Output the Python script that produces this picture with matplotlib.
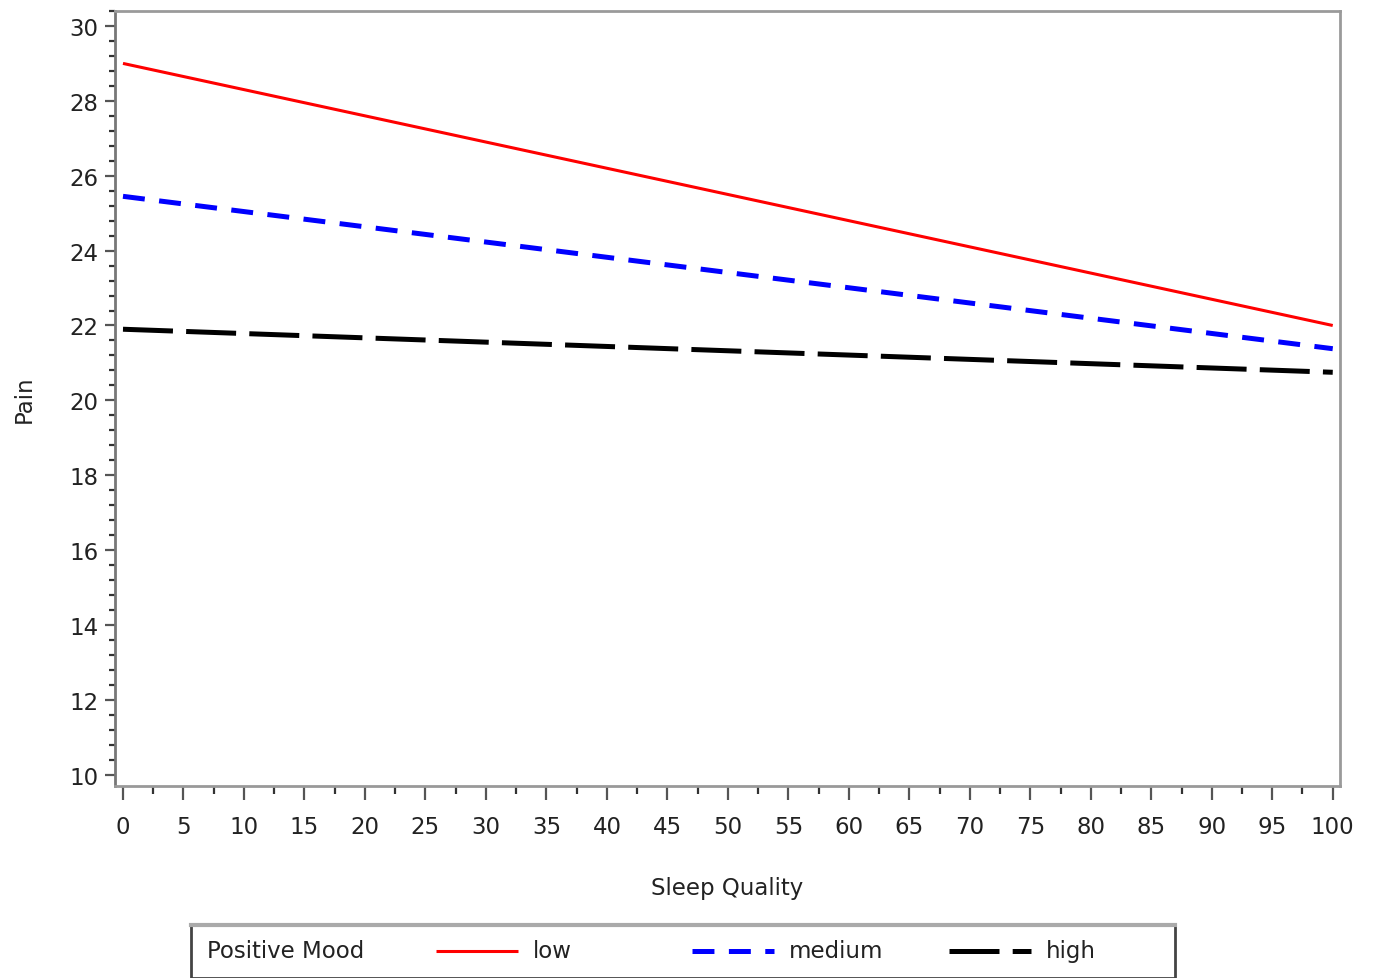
import matplotlib
matplotlib.use("Agg")
import matplotlib.pyplot as plt
from matplotlib.ticker import MultipleLocator
from matplotlib.lines import Line2D
from matplotlib.patches import Rectangle

plt.rcParams['lines.scale_dashes'] = False
plt.rcParams['font.family'] = ['DejaVu Sans']

sleep_quality = [0, 100]
pain_low = [29.0, 22.0]
pain_medium = [25.45, 21.38]
pain_high = [21.9, 20.75]
series_labels = ["low", "medium", "high"]
legend_title = "Positive Mood"
x_ticks = list(range(0, 101, 5))
y_ticks = list(range(10, 31, 2))

fig = plt.figure(figsize=(13.73, 9.79), dpi=100)
W, H = 1373, 979
ax = fig.add_axes([115 / W, 1 - 787 / H, (1340 - 115) / W, (787 - 12) / H])

styles = [
    dict(color='#ff0000', lw=2.2, linestyle='-'),
    dict(color='#0000ff', lw=3.6, linestyle=(0, (15.8, 10.4))),
    dict(color='#000000', lw=3.6, linestyle=(0, (36, 9.5))),
]
for ys, st in zip([pain_low, pain_medium, pain_high], styles):
    ax.plot(sleep_quality, ys, solid_capstyle='butt', dash_capstyle='butt', **st)

ax.set_xlim(-0.66, 100.6)
ax.set_ylim(9.7, 30.4)
ax.set_xticks(x_ticks)
ax.set_yticks(y_ticks)
ax.xaxis.set_minor_locator(MultipleLocator(2.5))
ax.yaxis.set_minor_locator(MultipleLocator(0.4))
tc = '#222222'
fs = 16.5
ax.tick_params(axis='both', which='major', direction='out', labelsize=fs,
               labelcolor=tc, color='#555555', width=1.6)
ax.tick_params(axis='x', which='major', length=10, pad=11)
ax.tick_params(axis='y', which='major', length=7, pad=5)
ax.tick_params(axis='x', which='minor', direction='out', length=6, width=1.6, color='#333333')
ax.tick_params(axis='y', which='minor', direction='out', length=4, width=1.6, color='#333333')
for s in ax.spines.values():
    s.set_color('#9a9a9a')
    s.set_linewidth(2)
ax.spines['left'].set_color('#777777')
ax.spines['bottom'].set_color('#999999')

ax.set_xlabel("Sleep Quality", fontsize=fs, color=tc, labelpad=27)
ax.set_ylabel("Pain", fontsize=fs, color=tc, labelpad=24)

# Legend box
lx0, lx1, ly0, ly1 = 191, 1175, 926, 979
fig.patches.append(Rectangle((lx0 / W, 1 - ly1 / H), (lx1 - lx0) / W, (ly1 - ly0) / H,
                             transform=fig.transFigure, fill=False,
                             edgecolor='#444444', linewidth=2))
fig.lines.append(Line2D([lx0 / W, lx1 / W], [1 - ly0 / H, 1 - ly0 / H],
                        transform=fig.transFigure, color='#aaaaaa', linewidth=3))
ty = 1 - 952 / H
fig.text(207 / W, ty, legend_title, fontsize=fs, color=tc, va='center', ha='left')
handle_x = [(436, 518), (692, 774), (949, 1031)]
text_x = [533, 789, 1046]
for (hx0, hx1), txx, lab, st in zip(handle_x, text_x, series_labels, styles):
    fig.lines.append(Line2D([hx0 / W, hx1 / W], [ty, ty], transform=fig.transFigure,
                            solid_capstyle='butt', dash_capstyle='butt', **st))
    fig.text(txx / W, ty, lab, fontsize=fs, color=tc, va='center', ha='left')

fig.savefig("out.png", dpi=100)
